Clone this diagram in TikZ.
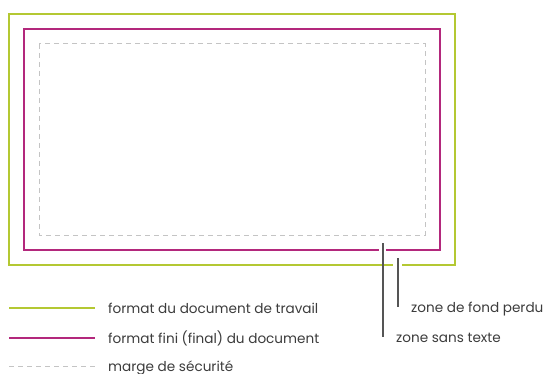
\documentclass[tikz,border=0pt]{standalone}
\usepackage{fontspec}
\setmainfont{Poppins}
\definecolor{travail}{HTML}{B4C832}
\definecolor{fini}{HTML}{B3287C}
\definecolor{marge}{HTML}{C4C4C4}
\definecolor{trait}{HTML}{555555}
\definecolor{texte}{HTML}{3C3C3C}
\tikzset{
  lbl/.style={anchor=base west, inner sep=0pt, text=texte, font=\fontsize{13.6}{15}\selectfont},
  vert/.style={travail, line width=2pt},
  magenta/.style={fini, line width=2pt},
  tirets/.style={marge, line width=1pt, dash pattern=on 5pt off 4pt},
  repere/.style={trait, line width=2pt}
}
\begin{document}
\begin{tikzpicture}[x=1pt,y=-1pt]
        \useasboundingbox (0,0) rectangle (551,374);
        % formats
        \draw[vert] (402,265) -- (455,265) -- (455,14) -- (9,14) -- (9,265) -- (393,265);
        \draw[magenta] (386,250) -- (440,250) -- (440,29) -- (24,29) -- (24,250) -- (379,250);
        \draw[tirets] (39,44) rectangle (425,235);

        % reperes
        \coordinate (fp1) at (398,258);
        \coordinate (fp2) at (398,307);
        \coordinate (st1) at (383,243);
        \coordinate (st2) at (383,337);
        \draw[repere] (fp1) -- (fp2);
        \draw[repere] (st1) -- (st2);
        \node[lbl] (fond) at (411,312) {zone de fond perdu};
        \node[lbl] (sans) at (396,342) {zone sans texte};

        % legende
        \foreach \s/\y/\t in {vert/313/format du document de travail, magenta/343/format fini (final) du document, tirets/371/marge de sécurité} {
            \coordinate (a\s) at (9,\y-5);
            \coordinate (b\s) at (95,\y-5);
            \draw[\s] (a\s) -- (b\s);
            \node[lbl] (t\s) at (108,\y) {\t};
        }
    \end{tikzpicture}
\end{document}
